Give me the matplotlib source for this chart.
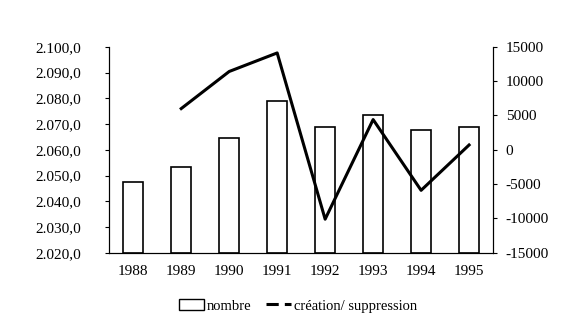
import matplotlib
matplotlib.use('Agg')
import matplotlib.pyplot as plt
from matplotlib.patches import Patch
from matplotlib.lines import Line2D

plt.rcParams['font.family'] = ['Liberation Serif', 'DejaVu Serif']
plt.rcParams['axes.unicode_minus'] = False

# ── Data ───────────────────────────────────────────────────────────────────────
years = ['1988', '1989', '1990', '1991', '1992', '1993', '1994', '1995']
nombre = [2047.4, 2053.2, 2064.5, 2079.1, 2068.8, 2073.5, 2067.8, 2068.8]
line_years = ['1989', '1990', '1991', '1992', '1993', '1994', '1995']
creation = [6000, 11400, 14100, -10100, 4400, -5900, 700]

left_ticks = [2020, 2030, 2040, 2050, 2060, 2070, 2080, 2090, 2100]
left_labels = ['2.020,0', '2.030,0', '2.040,0', '2.050,0', '2.060,0',
               '2.070,0', '2.080,0', '2.090,0', '2.100,0']
right_ticks = [-15000, -10000, -5000, 0, 5000, 10000, 15000]

# ── Plot ───────────────────────────────────────────────────────────────────────
fig = plt.figure(figsize=(5.72, 3.34), dpi=100)
ax = fig.add_axes([0.191, 0.243, 0.671, 0.617])

x = list(range(len(years)))
ax.bar(x, [v - 2020 for v in nombre], bottom=2020, width=0.42,
       color='white', edgecolor='black', linewidth=1.2, zorder=2)
ax.set_xlim(-0.5, len(years) - 0.5)
ax.set_ylim(2020, 2100)
ax.set_yticks(left_ticks)
ax.set_yticklabels(left_labels)
ax.set_xticks(x)
ax.set_xticklabels(years)

ax2 = ax.twinx()
lx = [years.index(y) for y in line_years]
ax2.plot(lx, creation, color='black', linewidth=2.2, zorder=3)
ax2.set_ylim(-15000, 15000)
ax2.set_yticks(right_ticks)

for a in (ax, ax2):
    a.spines['top'].set_visible(False)
    a.tick_params(labelsize=11, length=3, width=0.8)
    for s in a.spines.values():
        s.set_linewidth(0.8)
ax.tick_params(axis='x', length=0, pad=9)
ax.tick_params(axis='y', pad=17)
ax2.tick_params(axis='y', pad=6)

handles = [Patch(facecolor='white', edgecolor='black', linewidth=1.0),
           Line2D([0], [0], color='black', linewidth=2.2, linestyle=(0, (4, 2)))]
fig.legend(handles, ['nombre', 'création/ suppression'], loc='center',
           bbox_to_anchor=(0.521, 0.084), ncol=2, frameon=False, fontsize=10.5,
           handlelength=1.7, handletextpad=0.2, columnspacing=1.0)

plt.savefig('out.png', dpi=100)
